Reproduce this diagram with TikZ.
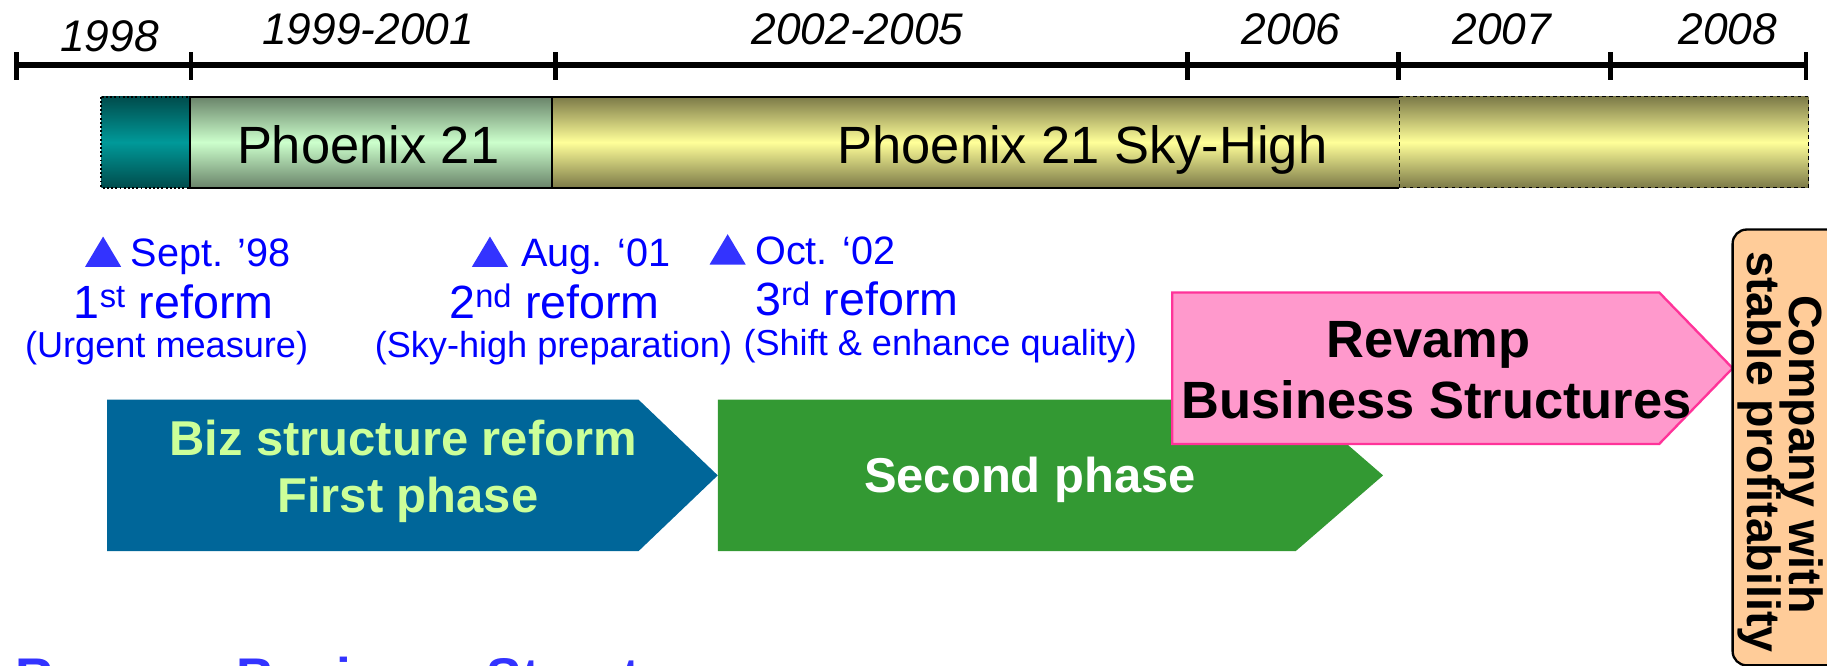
\documentclass[tikz,border=0pt]{standalone}
\usepackage{fontspec}
\setmainfont{Liberation Sans}
\definecolor{tealdark}{HTML}{004C4C}
\definecolor{tealmid}{HTML}{009999}
\definecolor{grndark}{HTML}{6A846A}
\definecolor{grnmid}{HTML}{CCFFCC}
\definecolor{yeldark}{HTML}{7C7A48}
\definecolor{yelmid}{HTML}{FFFF99}
\definecolor{bluearr}{HTML}{006699}
\definecolor{bluetxt}{HTML}{CCFF99}
\definecolor{grnarr}{HTML}{339933}
\definecolor{pinkfill}{HTML}{FF99CC}
\definecolor{pinkline}{HTML}{FF3399}
\definecolor{peach}{HTML}{FFCC99}
\definecolor{reftxt}{HTML}{0000FF}
\definecolor{reftri}{HTML}{3333FF}
\begin{document}
\begin{tikzpicture}[x=1pt,y=-1pt,
  yearlbl/.style={anchor=base,inner sep=0pt,font=\fontsize{38}{40}\selectfont\itshape},
  barlbl/.style={anchor=base,inner sep=0pt,font=\fontsize{45}{48}\selectfont},
  refa/.style={anchor=base west,inner sep=0pt,text=reftxt,font=\fontsize{34}{36}\selectfont},
  refb/.style={anchor=base,inner sep=0pt,text=reftxt,font=\fontsize{40}{42}\selectfont},
  refc/.style={anchor=base,inner sep=0pt,text=reftxt,font=\fontsize{31}{33}\selectfont},
  tri/.style={fill=reftri},
  arrlbl/.style={anchor=base,inner sep=0pt,font=\fontsize{42}{44}\selectfont\bfseries},
  tickline/.style={line width=4pt},
]
\useasboundingbox (0,0) rectangle (1568,571);
\clip (0,0) rectangle (1568,571);

% timeline
\coordinate (t0) at (14,56);
\coordinate (t6) at (1550,56);
\draw[line width=5pt] (t0) -- (t6);
\foreach \xx in {14,164,477,1019,1200,1382,1550}
  \draw[tickline] (\xx,45) -- (\xx,69);
\node[yearlbl] (y1998) at (94,44) {1998};
\node[yearlbl] (y1999) at (316,38.5) {1999-2001};
\node[yearlbl] (y2002) at (736,38.5) {2002-2005};
\node[yearlbl] (y2006) at (1108,38.5) {2006};
\node[yearlbl] (y2007) at (1289,38.5) {2007};
\node[yearlbl] (y2008) at (1483,38.5) {2008};

% bars
\shade[top color=tealdark,bottom color=tealdark,middle color=tealmid] (87,83) rectangle (163,161);
\draw[dotted,line width=1.6pt] (87,83) rectangle (163,161);
\shade[top color=grndark,bottom color=grndark,middle color=grnmid] (163,83) rectangle (474,161);
\draw[line width=1.6pt] (163,83) rectangle (474,161);
\shade[top color=yeldark,bottom color=yeldark,middle color=yelmid] (474,83) rectangle (1552,161);
\draw[line width=1.6pt] (1201,83) -- (474,83) -- (474,161) -- (1201,161);
\draw[dashed,line width=1.3pt] (1201,83) -- (1552,83) -- (1552,161) -- (1201,161) -- cycle;
\node[barlbl] (p21) at (316,140) {Phoenix 21};
\node[barlbl] (p21sh) at (929,140) {Phoenix 21 Sky-High};

% reform labels
\fill[tri] (73,229) -- (104,229) -- (88.5,203) -- cycle;
\node[refa] (r1a) at (112,229) {Sept. ’98};
\node[refb] (r1b) at (149,273) {1\textsuperscript{st} reform};
\node[refc] (r1c) at (143,307) {(Urgent measure)};
\fill[tri] (405,229) -- (436,229) -- (420.5,203) -- cycle;
\node[refa] (r2a) at (447,229) {Aug. ‘01};
\node[refb] (r2b) at (476,273) {2\textsuperscript{nd} reform};
\node[refc] (r2c) at (475,307) {(Sky-high preparation)};
\fill[tri] (609,227) -- (640,227) -- (624.5,201) -- cycle;
\node[refa] (r3a) at (648,227) {Oct. ‘02};
\node[refb,anchor=base west] (r3b) at (648,271) {3\textsuperscript{rd} reform};
\node[refc] (r3c) at (807,305) {(Shift \& enhance quality)};

% phase arrows
\fill[bluearr] (92,343) -- (548,343) -- (616,408) -- (548,473) -- (92,473) -- cycle;
\node[arrlbl,text=bluetxt] (biz1) at (346,391) {Biz structure reform};
\node[arrlbl,text=bluetxt] (biz2) at (350,440) {First phase};
\fill[grnarr] (616,343) -- (1112,343) -- (1187,408) -- (1112,473) -- (616,473) -- cycle;
\node[arrlbl,text=white] (sec) at (884,423) {Second phase};
\filldraw[fill=pinkfill,draw=pinkline,line width=2pt] (1006,251) -- (1424,251) -- (1487,316) -- (1424,381) -- (1006,381) -- cycle;
\node[arrlbl,font=\fontsize{45}{48}\selectfont\bfseries] (rev1) at (1226,307) {Revamp};
\node[arrlbl,font=\fontsize{45}{48}\selectfont\bfseries] (rev2) at (1233,359) {Business Structures};

% goal box
\filldraw[fill=peach,draw=black,line width=2pt,rounded corners=12pt] (1487,197) rectangle (1620,571);
\node[anchor=base,inner sep=0pt,rotate=-90,font=\fontsize{40}{42}\selectfont\bfseries] (goal1) at (1536,390) {Company with};
\node[anchor=base,inner sep=0pt,rotate=-90,font=\fontsize{40}{42}\selectfont\bfseries] (goal2) at (1500,388) {stable profitability};

% cut-off title at bottom
\node[anchor=base west,inner sep=0pt,text=reftri,font=\fontsize{45.5}{48}\selectfont\bfseries] (title) at (13,597) {Revamp Business Structures};
\end{tikzpicture}
\end{document}
